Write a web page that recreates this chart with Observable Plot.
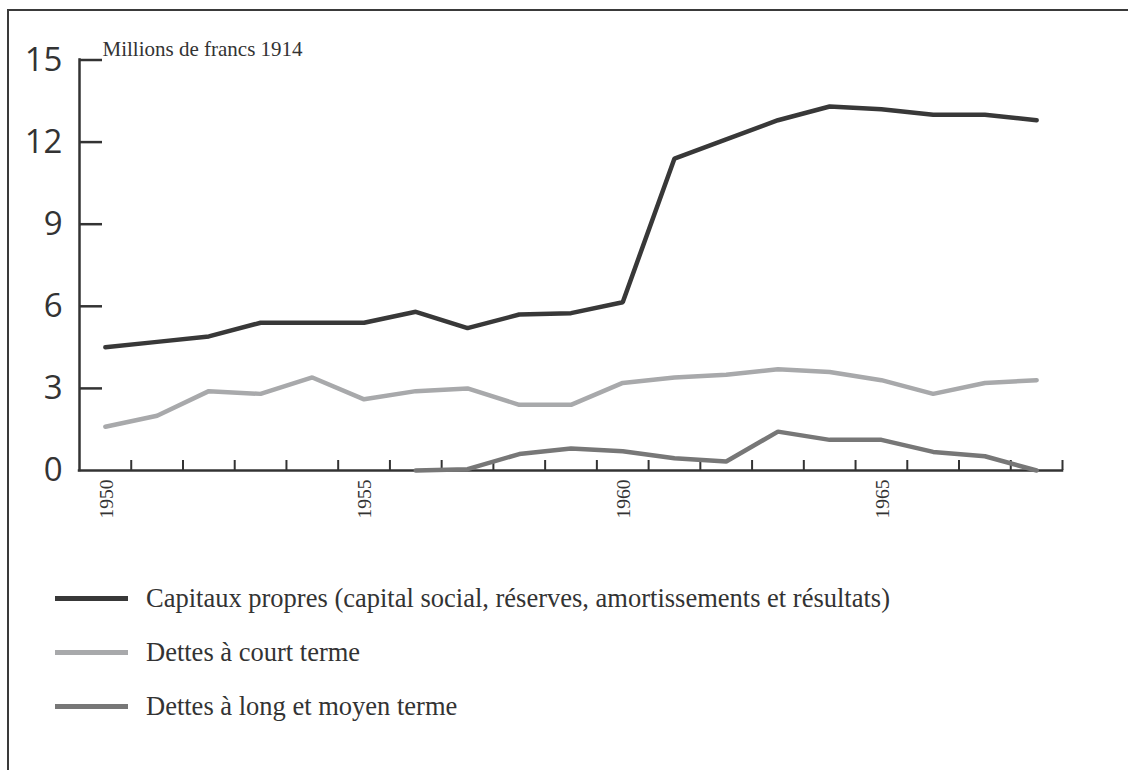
<!DOCTYPE html>
<html><head><meta charset="utf-8">
<script src="https://cdn.jsdelivr.net/npm/d3@7"></script>
<script src="https://cdn.jsdelivr.net/npm/@observablehq/plot@0.6"></script>
<style>
html,body{margin:0;padding:0;background:#fff;}
#wrap{position:relative;width:1128px;height:770px;overflow:hidden;background:#fff;}
#frame{position:absolute;left:7px;top:9px;width:1200px;height:900px;border:2.5px solid #3a3a3a;}
#chart{position:absolute;left:0;top:0;}
#legend{position:absolute;left:0;top:0;}
.row{position:absolute;left:55px;display:flex;align-items:center;height:34px;white-space:nowrap;}
.sw{width:73px;height:5px;}
.lab{margin-left:18px;font:26.5px "Liberation Serif","Times New Roman",serif;color:#333;}
</style>
</head><body>
<div id="wrap"><div id="frame"></div><div id="chart"></div><div id="legend"></div></div>
<script>
const years = [1950,1951,1952,1953,1954,1955,1956,1957,1958,1959,1960,1961,1962,1963,1964,1965,1966,1967,1968];
const capitauxPropres = [4.5,4.7,4.9,5.4,5.4,5.4,5.8,5.2,5.7,5.75,6.15,11.4,12.1,12.8,13.3,13.2,13.0,13.0,12.8];
const dettesCourt = [1.6,2.0,2.9,2.8,3.4,2.6,2.9,3.0,2.4,2.4,3.2,3.4,3.5,3.7,3.6,3.3,2.8,3.2,3.3];
const dettesLong = [null,null,null,null,null,null,0,0.05,0.6,0.8,0.7,0.45,0.33,1.42,1.12,1.12,0.68,0.52,0];
const seriesNames = ["Capitaux propres (capital social, réserves, amortissements et résultats)","Dettes à court terme","Dettes à long et moyen terme"];
const seriesColors = ["#383838","#a8a9ab","#777777"];
const yTickValues = [0,3,6,9,12,15];
const xTickPositions = [1950.5,1951.5,1952.5,1953.5,1954.5,1955.5,1956.5,1957.5,1958.5,1959.5,1960.5,1961.5,1962.5,1963.5,1964.5,1965.5,1966.5,1967.5,1968.5];
const xLabels = [1950,1955,1960,1965];
const unitLabel = "Millions de francs 1914";

const seriesValues = [capitauxPropres, dettesCourt, dettesLong];
const table = [];
seriesValues.forEach((vals, s) => vals.forEach((v, i) => table.push({year: years[i], value: v, series: seriesNames[s]})));

const W = 1128, H = 540, mL = 79, mR = 66, mT = 59.5, mB = 70;
const plotW = W - mL - mR, plotH = H - mT - mB;
const axisColor = "#333";
const serif = "'Liberation Serif','Times New Roman',serif";

const chart = Plot.plot({
  width: W, height: H,
  marginLeft: mL, marginRight: mR, marginTop: mT, marginBottom: mB,
  style: {background: "transparent", overflow: "visible"},
  x: {domain: [1949.5, 1968.5], axis: null},
  y: {domain: [0, 15], axis: null},
  color: {domain: seriesNames, range: seriesColors},
  marks: [
    Plot.ruleY([0], {stroke: axisColor, strokeWidth: 2.5, strokeLinecap: "square"}),
    Plot.ruleX([1949.5], {stroke: axisColor, strokeWidth: 2.5, strokeLinecap: "square"}),
    Plot.tickY(yTickValues.filter(d => d > 0), {y: d => d, stroke: axisColor, strokeWidth: 2.5, insetRight: plotW - 23}),
    Plot.tickX(xTickPositions, {x: d => d, stroke: axisColor, strokeWidth: 2, insetTop: plotH - 10}),
    Plot.line(table, {x: "year", y: "value", z: "series", stroke: "series", strokeWidth: 4.5, strokeLinejoin: "miter", strokeLinecap: "round"}),
    Plot.axisY({ticks: yTickValues, tickSize: 0, tickPadding: 17, fontSize: 33, fontFamily: "'Open Sans',sans-serif", color: axisColor, label: null}),
    Plot.text(xLabels, {x: d => d, y: () => 0, text: d => String(d), rotate: -90, textAnchor: "end", dy: 9, dx: 1, fontSize: 19.5, fontFamily: serif, fill: axisColor}),
    Plot.text([unitLabel], {frameAnchor: "top-left", text: d => d, textAnchor: "start", lineAnchor: "bottom", dx: 23, dy: -4, fontSize: 21, fontFamily: serif, fill: axisColor})
  ]
});
document.getElementById("chart").appendChild(chart);

const legend = document.getElementById("legend");
const rowCenters = [598, 652, 706];
seriesNames.forEach((name, i) => {
  const row = document.createElement("div");
  row.className = "row";
  row.style.top = (rowCenters[i] - 17) + "px";
  const sw = document.createElement("div");
  sw.className = "sw";
  sw.style.background = seriesColors[i];
  const lab = document.createElement("span");
  lab.className = "lab";
  lab.textContent = name;
  row.appendChild(sw); row.appendChild(lab);
  legend.appendChild(row);
});
</script>
</body></html>
